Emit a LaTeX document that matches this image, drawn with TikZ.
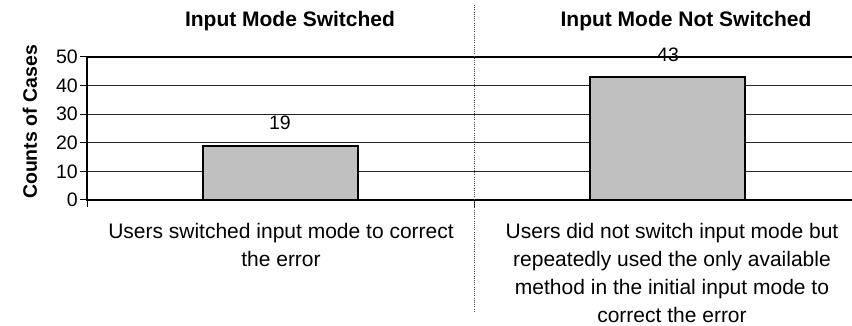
\documentclass[tikz,border=0pt]{standalone}
\usepackage{fontspec}
\setmainfont{Liberation Sans}
\definecolor{barfill}{HTML}{C0C0C0}
\begin{document}
\begin{tikzpicture}[x=1pt,y=-1pt,
  gridline/.style={line width=1pt, black!85},
  axisline/.style={line width=2pt, black},
  tickline/.style={line width=1pt, black},
  barbox/.style={draw=black, line width=2pt, fill=barfill},
  titletext/.style={font=\fontsize{21}{25}\selectfont\bfseries, anchor=base},
  ticktext/.style={font=\fontsize{19.5}{23}\selectfont, anchor=east, inner sep=0pt},
  valtext/.style={font=\fontsize{19.5}{23}\selectfont, anchor=center, inner sep=0pt},
  cattext/.style={font=\fontsize{21}{28}\selectfont, align=center, anchor=base, inner sep=0pt},
  dividerline/.style={line width=0.8pt, black!70, dash pattern=on 1pt off 1.2pt}]
\useasboundingbox (0,0) rectangle (852,326);
% grid lines
\foreach \v in {10,20,30,40} {
  \draw[gridline] (87,{200-\v*2.86}) -- (852,{200-\v*2.86});
}
% top line
\draw[axisline] (87,57) -- (852,57);
% bars
\draw[barbox] (203,200) rectangle (358,{200-19*2.86});
\draw[barbox] (590,200) rectangle (745,{200-43*2.86});
% axes
\draw[axisline] (87,56) -- (87,200);
\draw[axisline] (86,200) -- (852,200);
\foreach \v in {0,10,20,30,40,50} {
  \draw[tickline] (80,{200-\v*2.86}) -- (87,{200-\v*2.86});
  \node[ticktext] (t\v) at (78,{200-\v*2.86}) {\v};
}
\draw[tickline] (87,200) -- (87,207);
\draw[tickline] (474,200) -- (474,207);
% divider
\draw[dividerline] (474,5) -- (474,312);
% titles
\node[titletext] (title1) at (290,27) {Input Mode Switched};
\node[titletext] (title2) at (686,27) {Input Mode Not Switched};
% axis title
\node[font=\fontsize{19.5}{23}\selectfont\bfseries, rotate=90, inner sep=0pt] (ytitle) at (30,122) {Counts of Cases};
% value labels
\node[valtext] (v1) at (280,123) {19};
\node[valtext] (v2) at (668,55) {43};
% category labels (base anchor = last line's baseline)
\node[cattext] (c1) at (281,266) {Users switched input mode to correct\\the error};
\node[cattext] (c2) at (672,322) {Users did not switch input mode but\\repeatedly used the only available\\method in the initial input mode to\\correct the error};
\end{tikzpicture}
\end{document}
